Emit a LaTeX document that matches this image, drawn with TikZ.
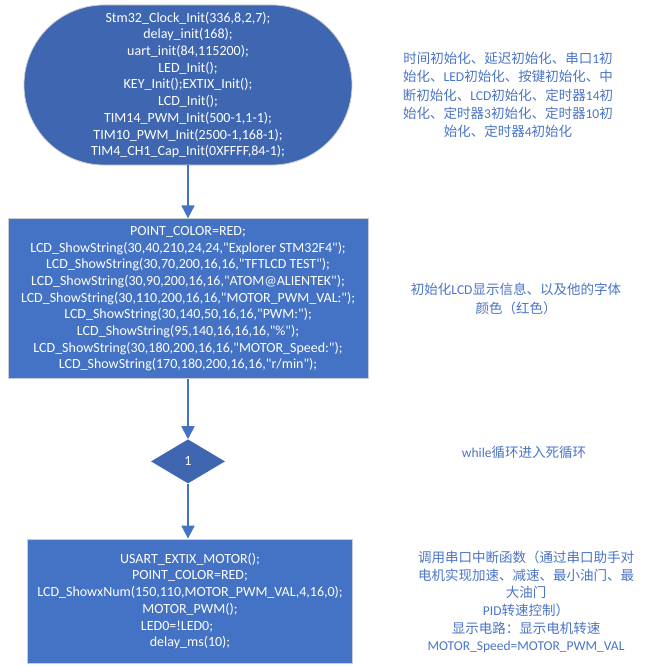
\documentclass[tikz,border=0pt]{standalone}
\usepackage{fontspec}
\setmainfont{Carlito}[Ligatures=TeXOff]
\newfontfamily\zh{Noto Sans CJK SC}
\usepackage{tikz}
\usetikzlibrary{arrows.meta,positioning,shapes.geometric}
\definecolor{boxblue}{HTML}{4472C4}
\definecolor{ovalblue}{HTML}{3F66B0}
\definecolor{edgegray}{HTML}{C8CCD3}
\definecolor{noteblue}{HTML}{4A74C6}
\tikzset{
  >={Triangle[width=13bp,length=13bp]},
  every node/.style={inner sep=0pt},
  code/.style={fill=boxblue,draw=edgegray,line width=0.8bp,text=white,align=center,
    font=\fontsize{14bp}{16.7bp}\selectfont},
  startoval/.style={code,fill=ovalblue,rounded corners=80bp},
  loopdiamond/.style={diamond,fill=ovalblue,draw=none,text=white,minimum width=74bp,
    minimum height=44bp,font=\fontsize{14bp}{15bp}\selectfont},
  note/.style={text=noteblue,align=center,font=\fontsize{13.5bp}{18.3bp}\selectfont},
  flow/.style={->,draw=boxblue,line width=1.8bp}
}

\begin{document}
\begin{tikzpicture}[x=1bp,y=-1bp,node distance=54bp]
  \useasboundingbox (0,0) rectangle (659,666);
  \node[startoval,minimum width=328bp,minimum height=160bp] (init) at (188,85)
    {Stm32\_Clock\_Init(336,8,2,7);\\delay\_init(168);\\uart\_init(84,115200);\\LED\_Init();\\
     KEY\_Init();EXTIX\_Init();\\LCD\_Init();\\TIM14\_PWM\_Init(500-1,1-1);\\
     TIM10\_PWM\_Init(2500-1,168-1);\\TIM4\_CH1\_Cap\_Init(0XFFFF,84-1);};
  \node[code,minimum width=360bp,minimum height=160bp,below=53bp of init] (lcdShow)
    {POINT\_COLOR=RED;\\LCD\_ShowString(30,40,210,24,24,"Explorer STM32F4");\\
     LCD\_ShowString(30,70,200,16,16,"TFTLCD TEST");\\
     LCD\_ShowString(30,90,200,16,16,"ATOM@ALIENTEK");\\
     LCD\_ShowString(30,110,200,16,16,"MOTOR\_PWM\_VAL:");\\
     LCD\_ShowString(30,140,50,16,16,"PWM:");\\
     LCD\_ShowString(95,140,16,16,16,"\%");\\
     LCD\_ShowString(30,180,200,16,16,"MOTOR\_Speed:");\\
     LCD\_ShowString(170,180,200,16,16,"r/min");};
  \node[loopdiamond,below=60bp of lcdShow] (loop) {1};
  \node[code,minimum width=325bp,minimum height=124bp,below=55bp of loop,xshift=2bp] (mainLoop)
    {USART\_EXTIX\_MOTOR();\\POINT\_COLOR=RED;\\LCD\_ShowxNum(150,110,MOTOR\_PWM\_VAL,4,16,0);\\
     MOTOR\_PWM();\\LED0=!LED0;\makebox[26bp]{}\\delay\_ms(10);};

  \draw[flow] (init)--(lcdShow);
  \draw[flow] (lcdShow.south)--(loop.north);
  \draw[flow] (loop.south)--(loop.south|-mainLoop.north);

  \node[note] (initNote) at (508,95)
    {{\zh 时间初始化、延迟初始化、串口}1{\zh 初}\\
     {\zh 始化、}LED{\zh 初始化、按键初始化、中}\\
     {\zh 断初始化、}LCD{\zh 初始化、定时器}14{\zh 初}\\
     {\zh 始化、定时器}3{\zh 初始化、定时器}10{\zh 初}\\
     {\zh 始化、定时器}4{\zh 初始化}};
  \node[note] (lcdNote) at (516,299)
    {{\zh 初始化}LCD{\zh 显示信息、以及他的字体}\\{\zh 颜色（红色）}};
  \node[note] (loopNote) at (524,452) {while{\zh 循环进入死循环}};
  \node[note,font=\fontsize{13.5bp}{17.6bp}\selectfont] (mainNote) at (526,602)
    {{\zh 调用串口中断函数（通过串口助手对}\\
     {\zh 电机实现加速、减速、最小油门、最}\\
     {\zh 大油门}\\
     PID{\zh 转速控制）}\\
     {\zh 显示电路：显示电机转速}\\
     MOTOR\_Speed=MOTOR\_PWM\_VAL};
\end{tikzpicture}
\end{document}
